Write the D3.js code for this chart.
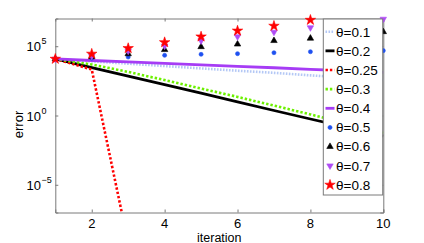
<!DOCTYPE html>
<html><head><meta charset="utf-8">
<script src="https://cdn.jsdelivr.net/npm/d3@7"></script>
<style>
html,body{margin:0;padding:0;background:#fff;}
text{font-family:"Liberation Sans",Arial,Helvetica,sans-serif;}
</style></head>
<body><svg id="c" width="424" height="243"></svg>
<script>
const iterations = [1,2,3,4,5,6,7,8,9,10];
const xTicks = [2,4,6,8,10];
const yTickExps = [-5,0,5];
const seriesNames = ["θ=0.1","θ=0.2","θ=0.25","θ=0.3","θ=0.4","θ=0.5","θ=0.6","θ=0.7","θ=0.8"];
const theta01 = [1.2e4,8.1e3,5.5e3,3.7e3,2.5e3,1.7e3,1.2e3,7.9e2,5.4e2,3.6e2];
const theta02 = [1.2e4,2.9e3,6.9e2,1.7e2,41,9.8,2.3,0.56,0.14,0.033];
const theta025 = [1.2e4,2.1e3,6.3e-10,1e-22,1e-35,1e-48,1e-61,1e-74,1e-87,1e-100];
const theta03 = [1.2e4,4.8e3,1.4e3,3.6e2,89,22,5.2,1.2,0.26,0.055];
const theta04 = [1.2e4,9.3e3,7.4e3,5.8e3,4.5e3,3.5e3,2.8e3,2.1e3,1.7e3,1.3e3];
const theta05 = [1.2e4,1.35e4,1.66e4,2.2e4,2.6e4,2.9e4,3.4e4,4.0e4,4.5e4,4.8e4];
const theta06 = [1.2e4,1.7e4,2.8e4,5.6e4,9.1e4,1.4e5,2.5e5,3.7e5,5.6e5,1.1e6];
const theta07 = [1.2e4,1.9e4,4.5e4,1.05e5,2.5e5,4.9e5,1.05e6,2.2e6,4e6,9.1e6];
const theta08 = [1.2e4,2.8e4,7.1e4,1.9e5,4.9e5,1.3e6,2.9e6,7.8e6,2e7,5e7];

const svg = d3.select("#c");
const L = 55.3, R = 383.3, T = 18.5, B = 212.5;
const x = d3.scaleLinear().domain([1,10]).range([L,R]);
const y = d3.scaleLog().domain([1e-7,1e7]).range([B,T]);
const axisColor = "#7a7a7a";

const lineSeries = [
  {name:seriesNames[0], v:theta01, color:"#b4c8f5", w:2.6, dash:"1.6,1.4"},
  {name:seriesNames[1], v:theta02, color:"#000000", w:2.8, dash:null},
  {name:seriesNames[2], v:theta025, color:"#ff0000", w:2.6, dash:"2.4,2"},
  {name:seriesNames[3], v:theta03, color:"#6cf000", w:2.6, dash:"2.4,2"},
  {name:seriesNames[4], v:theta04, color:"#a63cf5", w:2.8, dash:null}
];
const markerSeries = [
  {name:seriesNames[5], v:theta05, color:"#1e50f0", sym:d3.symbolCircle, size:13, rot:0},
  {name:seriesNames[6], v:theta06, color:"#000000", sym:d3.symbolTriangle, size:18, rot:0},
  {name:seriesNames[7], v:theta07, color:"#b04cf5", sym:d3.symbolTriangle, size:18, rot:180},
  {name:seriesNames[8], v:theta08, color:"#ff0000", sym:d3.symbolStar, size:34, rot:0}
];

svg.append("defs").append("clipPath").attr("id","clip")
  .append("rect").attr("x",L).attr("y",T).attr("width",R-L).attr("height",B-T);

// axes box
const ax = svg.append("g");
const xb = d3.axisBottom(x).tickValues(xTicks).tickSize(-3).tickFormat("");
const xt = d3.axisTop(x).tickValues(xTicks).tickSize(-3).tickFormat("");
const yl = d3.axisLeft(y).tickValues(yTickExps.map(e=>Math.pow(10,e))).tickSize(-3).tickFormat("");
const yr = d3.axisRight(y).tickValues(yTickExps.map(e=>Math.pow(10,e))).tickSize(-3).tickFormat("");
ax.append("g").attr("transform",`translate(0,${B})`).call(xb);
ax.append("g").attr("transform",`translate(0,${T})`).call(xt);
ax.append("g").attr("transform",`translate(${L},0)`).call(yl);
ax.append("g").attr("transform",`translate(${R},0)`).call(yr);
ax.selectAll("path.domain").attr("stroke",axisColor).attr("stroke-width",1);
ax.selectAll(".tick line").attr("stroke",axisColor);

// tick labels
svg.append("g").selectAll("text").data(xTicks).join("text")
  .attr("x",d=>x(d)).attr("y",227.5).attr("text-anchor","middle")
  .attr("font-size",13).attr("fill","#000").text(d=>d);
const yt = svg.append("g").selectAll("text").data(yTickExps).join("text")
  .attr("x",26.5).attr("y",d=>y(Math.pow(10,d))+5).attr("font-size",13).attr("fill","#000");
yt.append("tspan").text("10");
yt.append("tspan").attr("font-size",9).attr("dy",-7).attr("dx",0.5).text(d=>d<0?"\u2212"+(-d):d);

svg.append("text").attr("x",(L+R)/2).attr("y",241.5).attr("text-anchor","middle")
  .attr("font-size",12.5).text("iteration");
svg.append("text").attr("transform",`translate(23,${(T+B)/2+9}) rotate(-90)`)
  .attr("text-anchor","middle").attr("font-size",13).text("error");

// lines
const plot = svg.append("g").attr("clip-path","url(#clip)");
const lineGen = d3.line().x((d,i)=>x(iterations[i])).y(d=>y(d));
lineSeries.forEach(s=>{
  plot.append("path").attr("d",lineGen(s.v)).attr("fill","none")
    .attr("stroke",s.color).attr("stroke-width",s.w)
    .attr("stroke-dasharray",s.dash);
});
// markers
const mk = svg.append("g");
markerSeries.forEach(s=>{
  const pts = s.v.map((v,i)=>({x:iterations[i],v})).filter(p=>p.v<=1e7 && p.v>=1e-7);
  mk.selectAll(null).data(pts).join("path")
    .attr("transform",p=>`translate(${x(p.x)},${y(p.v)}) rotate(${s.rot})`)
    .attr("d",d3.symbol().type(s.sym).size(s.size)())
    .attr("fill",s.color).attr("stroke",s.color).attr("stroke-width",0.6);
});

// legend
const lg = svg.append("g");
const lx0 = 323.3, lx1 = 382.7, ly0 = 19, ly1 = 195;
lg.append("rect").attr("x",lx0).attr("y",ly0).attr("width",lx1-lx0).attr("height",ly1-ly0)
  .attr("fill","#fff").attr("stroke",axisColor).attr("stroke-width",1);
const rowY = i => 31.7 + i*19.15;
lineSeries.forEach((s,i)=>{
  lg.append("line").attr("x1",325.5).attr("x2",334.5).attr("y1",rowY(i)).attr("y2",rowY(i))
    .attr("stroke",s.color).attr("stroke-width",s.w).attr("stroke-dasharray",s.dash);
});
markerSeries.forEach((s,j)=>{
  const i = j+5;
  lg.append("path").attr("transform",`translate(330,${rowY(i)}) rotate(${s.rot})`)
    .attr("d",d3.symbol().type(s.sym).size(s.size)())
    .attr("fill",s.color).attr("stroke",s.color).attr("stroke-width",0.6);
});
lg.selectAll("text.l").data(seriesNames).join("text").attr("class","l")
  .attr("x",336).attr("y",(d,i)=>rowY(i)+4.8).attr("font-size",13.5).attr("fill","#000").text(d=>d);
</script></body></html>
